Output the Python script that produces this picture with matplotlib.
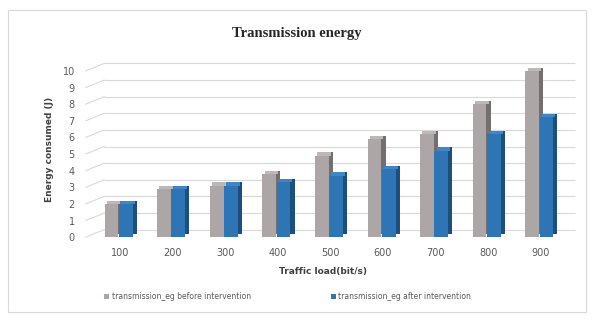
import matplotlib.pyplot as plt
from matplotlib.patches import Rectangle

loads = ["100", "200", "300", "400", "500", "600", "700", "800", "900"]
before = [2.0, 2.9, 3.1, 3.8, 4.9, 5.9, 6.2, 8.0, 10.0]
after = [2.0, 2.9, 3.1, 3.3, 3.7, 4.1, 5.2, 6.2, 7.2]
yticks = list(range(0, 11))

GRAY = "#aca7a6"
GRAY_TOP = "#bdb8b7"
GRAY_SIDE = "#736f6e"
BLUE = "#2e75b6"
BLUE_TOP = "#3f86c6"
BLUE_SIDE = "#1c4f7e"

fig = plt.figure(figsize=(5.93, 3.22), dpi=100)
fig.patches.append(Rectangle((0.013, 0.03), 0.975, 0.94, transform=fig.transFigure,
                             fill=False, edgecolor="#d9d9d9", linewidth=0.8))
ax = fig.add_axes([0.1357, 0.248, 0.847, 0.573])

# fake depth for the 3d look
dx = 0.08
dy = 0.2
width = 0.26
x = list(range(len(loads)))

# back wall grid lines with short slanted floor edge
wall_x0 = -0.65
for t in yticks:
    ax.plot([wall_x0, wall_x0 + 0.35], [t, t + 0.45], color="#d9d9d9", lw=0.8, zorder=0)
    ax.hlines(t + 0.45, wall_x0 + 0.35, 8.65, color="#d9d9d9", lw=0.8, zorder=0)

for xs, vals, face, top, side in [([i - 0.16 for i in x], before, GRAY, GRAY_TOP, GRAY_SIDE),
                                  ([i + 0.11 for i in x], after, BLUE, BLUE_TOP, BLUE_SIDE)]:
    ax.bar([v + dx for v in xs], vals, width=width, bottom=dy, color=side, zorder=2)
    ax.bar([v + dx / 2 for v in xs], [dy] * len(vals), width=width, bottom=vals,
           color=top, zorder=2)
    ax.bar(xs, vals, width=width, color=face, zorder=3)

ax.bar([0], [0], color=GRAY, label="transmission_eg before intervention")
ax.bar([0], [0], color=BLUE, label="transmission_eg after intervention")

ax.set_xlim(-0.75, 8.8)
ax.set_ylim(-0.3, 10.8)
ax.set_yticks(yticks)
ax.set_xticks(x)
ax.set_xticklabels(loads)
ax.tick_params(length=0, labelsize=7, colors="#595959", pad=4)
for s in ax.spines.values():
    s.set_visible(False)

ax.set_ylabel("Energy consumed (J)", fontsize=6.5, fontweight="bold", color="#404040", labelpad=6)
ax.set_xlabel("Traffic load(bit/s)", fontsize=6.5, fontweight="bold", color="#404040")
ax.xaxis.set_label_coords(0.483, -0.135)
fig.suptitle("Transmission energy", fontsize=10.5, fontweight="bold", family="Liberation Serif",
             color="#262626", y=0.915)

fig.legend(loc="center", bbox_to_anchor=(0.485, 0.078), ncol=2, frameon=False, fontsize=5.5,
           handlelength=0.7, handleheight=0.7, handletextpad=0.3, columnspacing=10.5,
           labelcolor="#595959")

fig.savefig("out.png", dpi=100)
